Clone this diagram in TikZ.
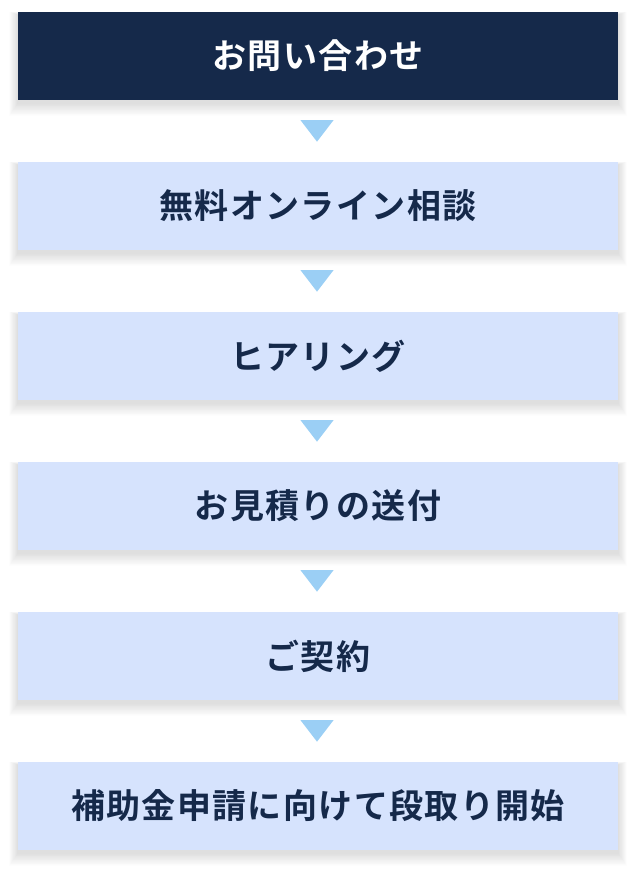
\documentclass[tikz,border=0pt]{standalone}
\usepackage{fontspec}
\setmainfont{Noto Sans CJK JP Bold}[LetterSpace=4]
\definecolor{navy}{HTML}{15294A}
\definecolor{lightbox}{HTML}{D6E3FD}
\definecolor{arrowblue}{HTML}{9BCFF5}
\tikzset{
  slot/.style={minimum width=600pt, minimum height=88pt, inner sep=0pt},
  stepbox/.style={slot, fill=lightbox, text=navy, font=\fontsize{34}{38}\selectfont},
  firstbox/.style={stepbox, fill=navy, text=white},
  tri/.style={fill=arrowblue}
}
\newcommand{\boxshadow}[1]{%
  \foreach \i in {1,...,16}{%
    \fill[black, opacity=0.007] ([xshift=-\i*0.55pt, yshift=-3pt-\i*0.8pt]#1.south west) rectangle ([xshift=\i*0.55pt, yshift=-3pt+\i*0.2pt]#1.north east);
  }%
}
\newcommand{\downtri}[2]{%
  \fill[tri] ([xshift=-1pt, yshift=-20pt]#1.south) ++(-16.5pt,0) -- ++(33pt,0) -- ([xshift=-1pt, yshift=-41.5pt]#1.south) -- cycle;
}
\begin{document}
\begin{tikzpicture}
\useasboundingbox (0,0) rectangle (636pt,-874pt);
\node[slot] (b1) at (318pt,-56pt) {};
\node[slot] (b2) at (318pt,-206pt) {};
\node[slot] (b3) at (318pt,-356pt) {};
\node[slot] (b4) at (318pt,-506pt) {};
\node[slot] (b5) at (318pt,-656pt) {};
\node[slot] (b6) at (318pt,-806pt) {};
\foreach \n in {b1,b2,b3,b4,b5,b6}{\boxshadow{\n}}
\node[firstbox] (c1) at (b1) {お問い合わせ};
\node[stepbox] (c2) at (b2) {無料オンライン相談};
\node[stepbox] (c3) at (b3) {ヒアリング};
\node[stepbox] (c4) at (b4) {お見積りの送付};
\node[stepbox] (c5) at (b5) {ご契約};
\node[stepbox] (c6) at (b6) {補助金申請に向けて段取り開始};
\downtri{c1}{c2}
\downtri{c2}{c3}
\downtri{c3}{c4}
\downtri{c4}{c5}
\downtri{c5}{c6}
\end{tikzpicture}
\end{document}
